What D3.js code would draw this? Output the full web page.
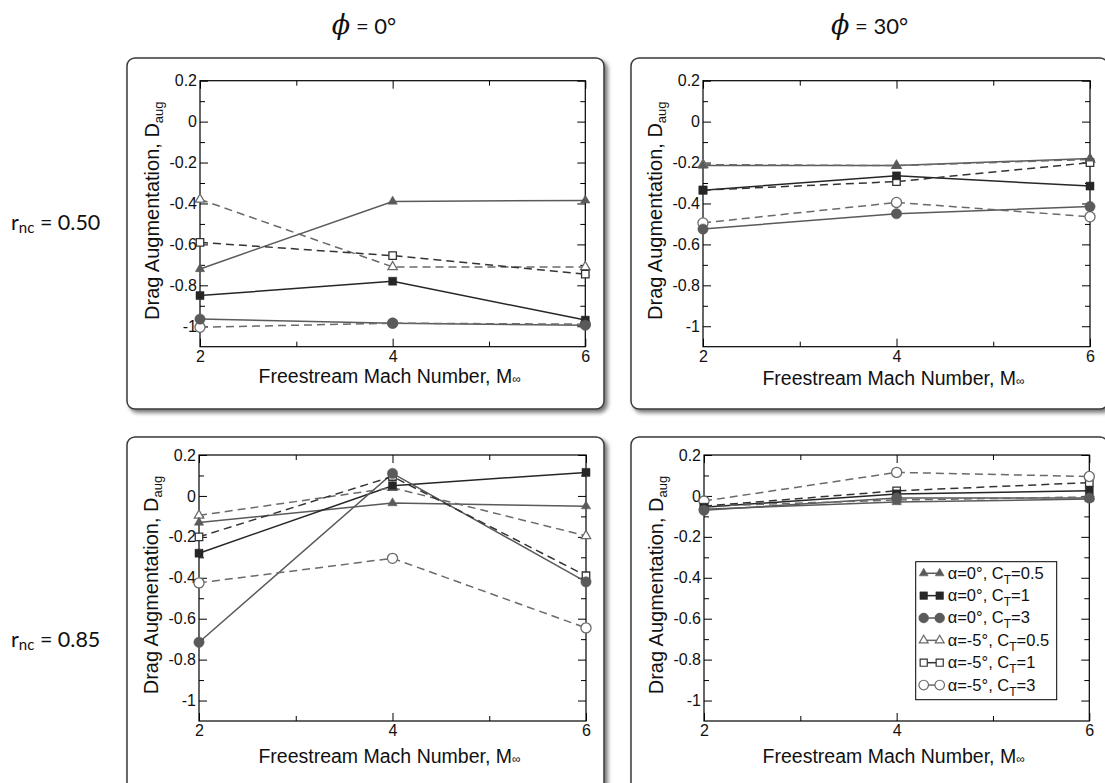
<!DOCTYPE html>
<html>
<head>
<meta charset="utf-8">
<script src="https://cdn.jsdelivr.net/npm/d3@7"></script>
<style>
  html, body { margin: 0; padding: 0; background: #fff; }
  svg { display: block; }
</style>
</head>
<body>
<svg id="chart" width="1105" height="783"></svg>
<script>
// ---------------- DATA ----------------
const machNumbers = [2, 4, 6];
const xTicksMajor = [2, 4, 6];
const xTicksMinor = [3, 5];
const yTicksMajor = [0.2, 0, -0.2, -0.4, -0.6, -0.8, -1];
const yTickLabels = ["0.2", "0", "-0.2", "-0.4", "-0.6", "-0.8", "-1"];
const yTicksMinor = [0.1, -0.1, -0.3, -0.5, -0.7, -0.9];
const yDomain = [-1.1, 0.2];
const xDomain = [2, 6];

const seriesAlpha = ["α=0°", "α=0°", "α=0°", "α=-5°", "α=-5°", "α=-5°"];
const seriesCT = ["0.5", "1", "3", "0.5", "1", "3"];

const columnTitles = ["0°", "30°"];
const rowTitles = ["0.50", "0.85"];

// each: 6 series x 3 Mach numbers
const phi0_r050 = [
  [-0.72, -0.39, -0.385],
  [-0.85, -0.78, -0.97],
  [-0.965, -0.985, -0.995],
  [-0.38, -0.71, -0.71],
  [-0.59, -0.655, -0.745],
  [-1.005, -0.985, -0.99]
];
const phi30_r050 = [
  [-0.215, -0.215, -0.18],
  [-0.335, -0.265, -0.315],
  [-0.525, -0.45, -0.415],
  [-0.21, -0.215, -0.185],
  [-0.335, -0.293, -0.2],
  [-0.495, -0.395, -0.465]
];
const phi0_r085 = [
  [-0.13, -0.035, -0.05],
  [-0.28, 0.05, 0.115],
  [-0.715, 0.11, -0.42],
  [-0.095, 0.04, -0.195],
  [-0.2, 0.095, -0.39],
  [-0.425, -0.305, -0.645]
];
const phi30_r085 = [
  [-0.065, -0.03, -0.015],
  [-0.055, 0.01, 0.025],
  [-0.07, -0.01, -0.01],
  [-0.05, -0.02, -0.005],
  [-0.05, 0.025, 0.065],
  [-0.025, 0.115, 0.095]
];

// ---------------- STYLE / LAYOUT ----------------
const seriesStyle = [
  { shape: d3.symbolTriangle, size: 38, filled: true,  dash: null,  color: "#5a5a5a" },
  { shape: d3.symbolSquare,   size: 64, filled: true,  dash: null,  color: "#262626" },
  { shape: d3.symbolCircle,   size: 84, filled: true,  dash: null,  color: "#5a5a5a" },
  { shape: d3.symbolTriangle, size: 38, filled: false, dash: "8,5", color: "#6a6a6a" },
  { shape: d3.symbolSquare,   size: 56, filled: false, dash: "8,5", color: "#333333" },
  { shape: d3.symbolCircle,   size: 80, filled: false, dash: "8,5", color: "#6a6a6a" }
];
const markerOrder = [3, 4, 5, 0, 1, 2];

const panels = [
  { data: phi0_r050,  box: [127, 58, 477, 351], plot: [200, 80.7, 385.3, 266], xlab: 36, tickY: 16 },
  { data: phi30_r050, box: [631, 58, 477, 351], plot: [703, 80.7, 387, 266],   xlab: 38, tickY: 16 },
  { data: phi0_r085,  box: [127, 437, 477, 400], plot: [199, 455, 387, 266],   xlab: 42, tickY: 16 },
  { data: phi30_r085, box: [631, 437, 477, 400], plot: [704, 455, 385.3, 266], xlab: 42, tickY: 16, legend: true }
];

const svg = d3.select("#chart");
const defs = svg.append("defs");
const filt = defs.append("filter").attr("id", "shadow")
  .attr("x", "-5%").attr("y", "-5%").attr("width", "115%").attr("height", "115%");
filt.append("feDropShadow").attr("dx", 3).attr("dy", 3)
  .attr("stdDeviation", 2).attr("flood-color", "#000").attr("flood-opacity", 0.55);

const axisFont = "'Liberation Sans', Arial, Helvetica, sans-serif";
const labelFont = "Lato, 'Open Sans', sans-serif";

// Column headers
const headerCenters = [364, 869.5];
columnTitles.forEach((t, i) => {
  const g = svg.append("text")
    .attr("x", headerCenters[i]).attr("y", 34)
    .attr("text-anchor", "middle")
    .attr("font-family", labelFont).attr("font-size", 22).attr("fill", "#111");
  g.append("tspan").attr("font-family", "'DejaVu Serif', serif").attr("font-style", "italic")
    .attr("font-size", 27).text("ϕ");
  g.append("tspan").text(" = " + t);
});

// Row labels
const rowBaselines = [230, 647];
rowTitles.forEach((t, i) => {
  const g = svg.append("text")
    .attr("x", 11).attr("y", rowBaselines[i])
    .attr("font-family", labelFont).attr("font-size", 21.5).attr("fill", "#111");
  g.append("tspan").text("r");
  g.append("tspan").attr("font-size", 15).attr("dy", 3).text("nc");
  g.append("tspan").attr("dy", -3).text(" = " + t);
});

panels.forEach(p => {
  const [bx, by, bw, bh] = p.box;
  svg.append("rect")
    .attr("x", bx).attr("y", by).attr("width", bw).attr("height", bh)
    .attr("rx", 8).attr("ry", 8)
    .attr("fill", "#fff").attr("stroke", "#3a3a3a").attr("stroke-width", 1.5)
    .attr("filter", "url(#shadow)");

  const [px, py, pw, ph] = p.plot;
  const g = svg.append("g").attr("transform", `translate(${px},${py})`);
  const x = d3.scaleLinear().domain(xDomain).range([0, pw]);
  const y = d3.scaleLinear().domain(yDomain).range([ph, 0]);

  // ticks (inward, all four sides)
  const fmt = v => yTickLabels[yTicksMajor.indexOf(v)];
  const styleAxis = sel => {
    sel.select(".domain").remove();
    sel.selectAll("line").attr("stroke", "#000").attr("stroke-width", 1);
    sel.selectAll("text").attr("font-family", axisFont).attr("font-size", 16).attr("fill", "#111");
  };
  g.append("g").call(d3.axisLeft(y).tickValues(yTicksMajor).tickFormat(fmt).tickSize(-8).tickPadding(3)).call(styleAxis);
  g.append("g").call(d3.axisLeft(y).tickValues(yTicksMinor).tickFormat("").tickSize(-5)).call(styleAxis);
  g.append("g").attr("transform", `translate(${pw},0)`).call(d3.axisRight(y).tickValues(yTicksMajor).tickFormat("").tickSize(-8)).call(styleAxis);
  g.append("g").attr("transform", `translate(${pw},0)`).call(d3.axisRight(y).tickValues(yTicksMinor).tickFormat("").tickSize(-5)).call(styleAxis);
  g.append("g").attr("transform", `translate(0,${ph})`).call(d3.axisBottom(x).tickValues(xTicksMajor).tickFormat(d3.format("d")).tickSize(-8).tickPadding(4)).call(styleAxis);
  g.append("g").attr("transform", `translate(0,${ph})`).call(d3.axisBottom(x).tickValues(xTicksMinor).tickFormat("").tickSize(-5)).call(styleAxis);
  g.append("g").call(d3.axisTop(x).tickValues(xTicksMajor).tickFormat("").tickSize(-8)).call(styleAxis);
  g.append("g").call(d3.axisTop(x).tickValues(xTicksMinor).tickFormat("").tickSize(-5)).call(styleAxis);

  g.append("rect").attr("width", pw).attr("height", ph)
    .attr("fill", "none").attr("stroke", "#000").attr("stroke-width", 1.2);

  // lines
  const line = d3.line().x((d, i) => x(machNumbers[i])).y(d => y(d));
  p.data.forEach((vals, si) => {
    const st = seriesStyle[si];
    g.append("path").datum(vals).attr("d", line)
      .attr("fill", "none").attr("stroke", st.color).attr("stroke-width", 1.5)
      .attr("stroke-dasharray", st.dash);
  });
  // markers
  markerOrder.forEach(si => {
    const vals = p.data[si];
    const st = seriesStyle[si];
    g.selectAll(null).data(vals).enter().append("path")
      .attr("transform", (d, i) => `translate(${x(machNumbers[i])},${y(d)})`)
      .attr("d", d3.symbol().type(st.shape).size(st.size))
      .attr("fill", st.filled ? st.color : "#fff")
      .attr("stroke", st.color).attr("stroke-width", st.filled ? 0.5 : 1.3);
  });

  // axis labels
  const xl = g.append("text").attr("x", pw / 2 - 3).attr("y", ph + p.xlab)
    .attr("text-anchor", "middle").attr("font-family", axisFont).attr("font-size", 19.5).attr("fill", "#111");
  xl.append("tspan").text("Freestream Mach Number, M");
  xl.append("tspan").attr("font-size", 12).text("∞");

  const yl = g.append("text").attr("transform", `translate(-41,${ph / 2 - 3}) rotate(-90)`)
    .attr("text-anchor", "middle").attr("font-family", axisFont).attr("font-size", 20).attr("fill", "#111");
  yl.append("tspan").text("Drag Augmentation, D");
  yl.append("tspan").attr("font-size", 13).attr("dy", 4).text("aug");

  // legend
  if (p.legend) {
    const lg = g.append("g").attr("transform", "translate(211.7,106.7)");
    lg.append("rect").attr("width", 141).attr("height", 138)
      .attr("fill", "#fff").attr("stroke", "#000").attr("stroke-width", 1);
    seriesStyle.forEach((st, si) => {
      const cy = 11.6 + si * 22.35;
      lg.append("line").attr("x1", 8).attr("x2", 24).attr("y1", cy).attr("y2", cy)
        .attr("stroke", st.color).attr("stroke-width", 1.5);
      [8, 24].forEach(mx => {
        lg.append("path").attr("transform", `translate(${mx},${cy})`)
          .attr("d", d3.symbol().type(st.shape).size(st.size * 0.9))
          .attr("fill", st.filled ? st.color : "#fff")
          .attr("stroke", st.color).attr("stroke-width", st.filled ? 0.5 : 1.2);
      });
      const t = lg.append("text").attr("x", 32).attr("y", cy + 5.5)
        .attr("font-family", axisFont).attr("font-size", 16.5).attr("fill", "#111");
      t.append("tspan").text(seriesAlpha[si] + ", C");
      t.append("tspan").attr("font-size", 12).attr("dy", 5).text("T");
      t.append("tspan").attr("dy", -5).text("=" + seriesCT[si]);
    });
  }
});
</script>
</body>
</html>
